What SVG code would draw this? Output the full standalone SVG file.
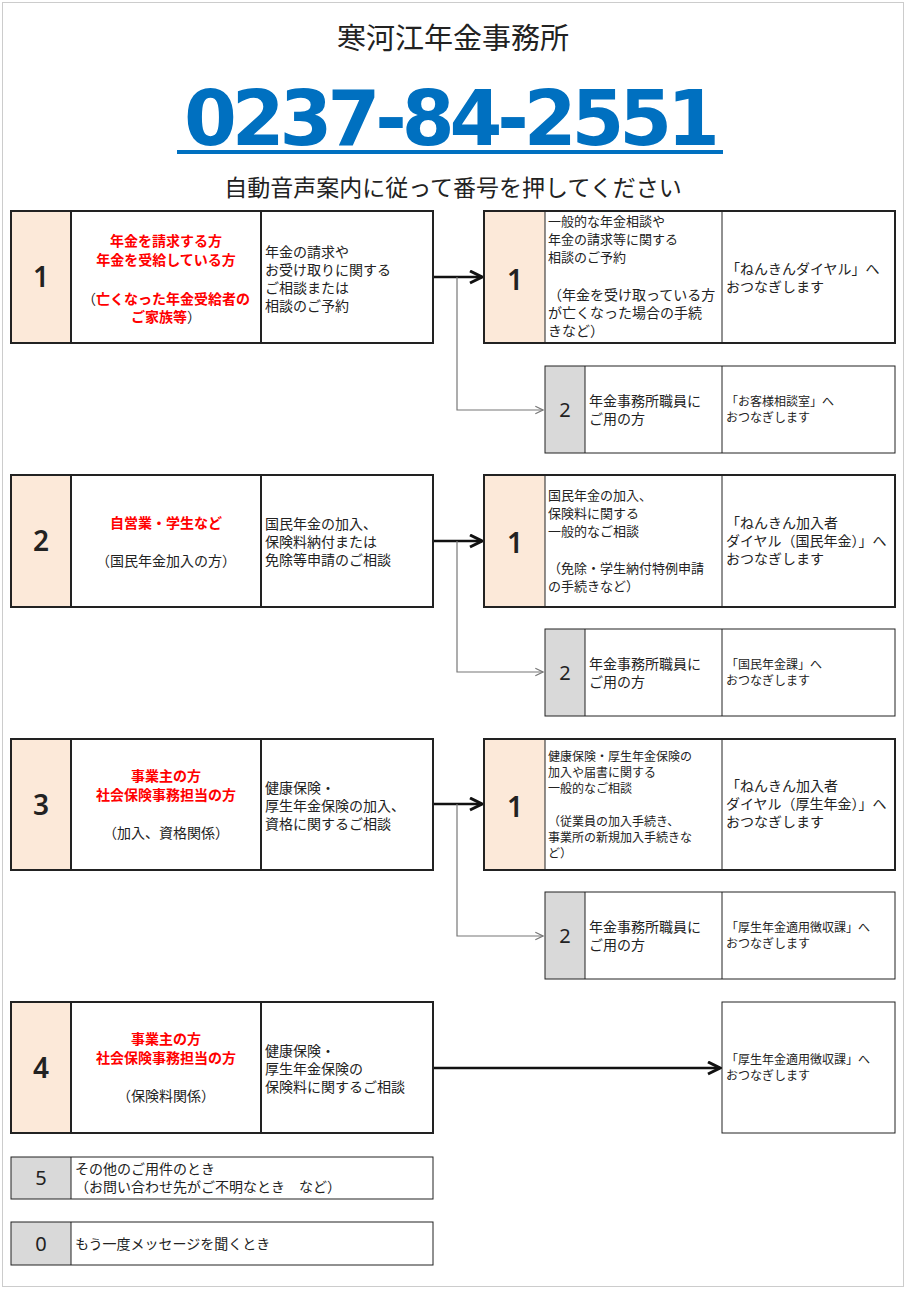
<svg xmlns="http://www.w3.org/2000/svg" width="907" height="1290" viewBox="0 0 907 1290">
<style>
text{font-family:"Noto Sans CJK JP","Noto Sans",sans-serif;fill:#222}
.b{fill:none;stroke:#222;stroke-width:2}
.t{fill:none;stroke:#222;stroke-width:1}
.pk{fill:#fce9d9}
.gy{fill:#d9d9d9}
.n{font-size:28px;text-anchor:middle;font-family:"Noto Sans",sans-serif;font-weight:600}
.s{font-size:20px;text-anchor:middle;font-family:"Noto Sans",sans-serif}
.r{fill:#ff0000;font-size:14px;text-anchor:middle;font-weight:bold}
.c{font-size:14px;text-anchor:middle}
.d{font-size:14px}
.m{font-size:13px}
.sm{font-size:12px}
</style>
<defs>
<marker id="ab" viewBox="0 0 10 10" refX="9" refY="5" markerWidth="6" markerHeight="6" orient="auto"><path d="M1,1 L9,5 L1,9" fill="none" stroke="#111" stroke-width="2"/></marker>
<marker id="ag" viewBox="0 0 10 10" refX="9" refY="5" markerWidth="8" markerHeight="8" orient="auto"><path d="M1,1 L9,5 L1,9" fill="none" stroke="#777" stroke-width="1.2"/></marker>
</defs>
<rect width="907" height="1290" fill="#fff"/>
<rect x="2.5" y="2.5" width="901" height="1284" fill="none" stroke="#ccc"/>
<g id="header">
<text x="453" y="49" font-size="29" text-anchor="middle">寒河江年金事務所</text>
<text x="452" y="145" font-size="76" font-weight="600" text-anchor="middle" textLength="536" lengthAdjust="spacing" style="fill:#0070c0;font-family:'DejaVu Sans',sans-serif">0237-84-2551</text>
<rect x="177" y="150" width="546" height="4" fill="#0070c0"/>
<text x="453" y="196" font-size="23" text-anchor="middle">自動音声案内に従って番号を押してください</text>
</g>
<g id="connectors">
<line x1="433" y1="277" x2="482" y2="277" stroke="#111" stroke-width="2.5" marker-end="url(#ab)"/>
<polyline points="457,277 457,410 543,410" fill="none" stroke="#777" stroke-width="1.2" marker-end="url(#ag)"/>
<line x1="433" y1="541" x2="482" y2="541" stroke="#111" stroke-width="2.5" marker-end="url(#ab)"/>
<polyline points="457,541 457,672 543,672" fill="none" stroke="#777" stroke-width="1.2" marker-end="url(#ag)"/>
<line x1="433" y1="804" x2="482" y2="804" stroke="#111" stroke-width="2.5" marker-end="url(#ab)"/>
<polyline points="457,804 457,936 543,936" fill="none" stroke="#777" stroke-width="1.2" marker-end="url(#ag)"/>
<line x1="433" y1="1068" x2="720" y2="1068" stroke="#111" stroke-width="2.5" marker-end="url(#ab)"/>
</g>
<g id="opt1">
<rect x="11" y="211" width="60" height="132" class="pk"/>
<rect x="11" y="211" width="422" height="132" class="b"/>
<line x1="71" y1="211" x2="71" y2="343" class="b"/><line x1="261" y1="211" x2="261" y2="343" class="b"/>
<text x="41" y="287" class="n">1</text>
<text x="166" y="246" class="r">年金を請求する方</text>
<text x="166" y="265" class="r">年金を受給している方</text>
<text x="166" y="304" class="r"><tspan style="fill:#222;font-weight:normal">（</tspan>亡くなった年金受給者の</text>
<text x="166" y="322" class="r">ご家族等<tspan style="fill:#222;font-weight:normal">）</tspan></text>
<text x="265" y="257" class="d">年金の請求や</text>
<text x="265" y="275" class="d">お受け取りに関する</text>
<text x="265" y="293" class="d">ご相談または</text>
<text x="265" y="311" class="d">相談のご予約</text>
</g>
<g id="opt1-1">
<rect x="484" y="211" width="61" height="132" class="pk"/>
<rect x="484" y="211" width="411" height="132" class="b"/>
<line x1="545" y1="211" x2="545" y2="343" class="t"/><line x1="722" y1="211" x2="722" y2="343" class="t"/>
<text x="515" y="290" class="n">1</text>
<text x="548" y="226" class="m">一般的な年金相談や</text>
<text x="548" y="244" class="m">年金の請求等に関する</text>
<text x="548" y="262" class="m">相談のご予約</text>
<text x="548" y="300" class="d">（年金を受け取っている方</text>
<text x="548" y="318" class="d">が亡くなった場合の手続</text>
<text x="548" y="336" class="d">きなど）</text>
<text x="726" y="274" class="d">「ねんきんダイヤル」へ</text>
<text x="726" y="292" class="d">おつなぎします</text>
</g>
<g id="opt1-2">
<rect x="545" y="366" width="40" height="87" class="gy"/>
<rect x="545" y="366" width="350" height="87" class="t"/>
<line x1="585" y1="366" x2="585" y2="453" class="t"/><line x1="722" y1="366" x2="722" y2="453" class="t"/>
<text x="565" y="417" class="s">2</text>
<text x="589" y="406" class="d">年金事務所職員に</text>
<text x="589" y="424" class="d">ご用の方</text>
<text x="726" y="406" class="sm">「お客様相談室」へ</text>
<text x="726" y="422" class="sm">おつなぎします</text>
</g>
<g id="opt2">
<rect x="11" y="475" width="60" height="132" class="pk"/>
<rect x="11" y="475" width="422" height="132" class="b"/>
<line x1="71" y1="475" x2="71" y2="607" class="b"/><line x1="261" y1="475" x2="261" y2="607" class="b"/>
<text x="41" y="551" class="n">2</text>
<text x="166" y="528" class="r">自営業・学生など</text>
<text x="166" y="566" class="c">（国民年金加入の方）</text>
<text x="265" y="529" class="d">国民年金の加入、</text>
<text x="265" y="547" class="d">保険料納付または</text>
<text x="265" y="565" class="d">免除等申請のご相談</text>
</g>
<g id="opt2-1">
<rect x="484" y="475" width="61" height="132" class="pk"/>
<rect x="484" y="475" width="411" height="132" class="b"/>
<line x1="545" y1="475" x2="545" y2="607" class="t"/><line x1="722" y1="475" x2="722" y2="607" class="t"/>
<text x="515" y="553" class="n">1</text>
<text x="548" y="500" class="m">国民年金の加入、</text>
<text x="548" y="518" class="m">保険料に関する</text>
<text x="548" y="536" class="m">一般的なご相談</text>
<text x="548" y="573" class="m">（免除・学生納付特例申請</text>
<text x="548" y="591" class="m">の手続きなど）</text>
<text x="726" y="528" class="d">「ねんきん加入者</text>
<text x="726" y="546" class="d">ダイヤル（国民年金）」へ</text>
<text x="726" y="564" class="d">おつなぎします</text>
</g>
<g id="opt2-2">
<rect x="545" y="629" width="40" height="87" class="gy"/>
<rect x="545" y="629" width="350" height="87" class="t"/>
<line x1="585" y1="629" x2="585" y2="716" class="t"/><line x1="722" y1="629" x2="722" y2="716" class="t"/>
<text x="565" y="680" class="s">2</text>
<text x="589" y="669" class="d">年金事務所職員に</text>
<text x="589" y="687" class="d">ご用の方</text>
<text x="726" y="669" class="sm">「国民年金課」へ</text>
<text x="726" y="685" class="sm">おつなぎします</text>
</g>
<g id="opt3">
<rect x="11" y="739" width="60" height="131" class="pk"/>
<rect x="11" y="739" width="422" height="131" class="b"/>
<line x1="71" y1="739" x2="71" y2="870" class="b"/><line x1="261" y1="739" x2="261" y2="870" class="b"/>
<text x="41" y="815" class="n">3</text>
<text x="166" y="781" class="r">事業主の方</text>
<text x="166" y="800" class="r">社会保険事務担当の方</text>
<text x="166" y="838" class="c">（加入、資格関係）</text>
<text x="265" y="793" class="d">健康保険・</text>
<text x="265" y="811" class="d">厚生年金保険の加入、</text>
<text x="265" y="829" class="d">資格に関するご相談</text>
</g>
<g id="opt3-1">
<rect x="484" y="739" width="61" height="131" class="pk"/>
<rect x="484" y="739" width="411" height="131" class="b"/>
<line x1="545" y1="739" x2="545" y2="870" class="t"/><line x1="722" y1="739" x2="722" y2="870" class="t"/>
<text x="515" y="817" class="n">1</text>
<text x="548" y="761" class="sm">健康保険・厚生年金保険の</text>
<text x="548" y="777" class="sm">加入や届書に関する</text>
<text x="548" y="793" class="sm">一般的なご相談</text>
<text x="548" y="826" class="sm">（従業員の加入手続き、</text>
<text x="548" y="842" class="sm">事業所の新規加入手続きな</text>
<text x="548" y="858" class="sm">ど）</text>
<text x="726" y="791" class="d">「ねんきん加入者</text>
<text x="726" y="809" class="d">ダイヤル（厚生年金）」へ</text>
<text x="726" y="827" class="d">おつなぎします</text>
</g>
<g id="opt3-2">
<rect x="545" y="892" width="40" height="87" class="gy"/>
<rect x="545" y="892" width="350" height="87" class="t"/>
<line x1="585" y1="892" x2="585" y2="979" class="t"/><line x1="722" y1="892" x2="722" y2="979" class="t"/>
<text x="565" y="943" class="s">2</text>
<text x="589" y="932" class="d">年金事務所職員に</text>
<text x="589" y="950" class="d">ご用の方</text>
<text x="726" y="932" class="sm">「厚生年金適用徴収課」へ</text>
<text x="726" y="948" class="sm">おつなぎします</text>
</g>
<g id="opt4">
<rect x="11" y="1002" width="60" height="131" class="pk"/>
<rect x="11" y="1002" width="422" height="131" class="b"/>
<line x1="71" y1="1002" x2="71" y2="1133" class="b"/><line x1="261" y1="1002" x2="261" y2="1133" class="b"/>
<text x="41" y="1078" class="n">4</text>
<text x="166" y="1044" class="r">事業主の方</text>
<text x="166" y="1063" class="r">社会保険事務担当の方</text>
<text x="166" y="1101" class="c">（保険料関係）</text>
<text x="265" y="1056" class="d">健康保険・</text>
<text x="265" y="1074" class="d">厚生年金保険の</text>
<text x="265" y="1092" class="d">保険料に関するご相談</text>
</g>
<g id="opt4-dest">
<rect x="722" y="1002" width="173" height="131" class="t"/>
<text x="726" y="1064" class="sm">「厚生年金適用徴収課」へ</text>
<text x="726" y="1080" class="sm">おつなぎします</text>
</g>
<g id="opt5">
<rect x="11" y="1157" width="60" height="42" class="gy"/>
<rect x="11" y="1157" width="422" height="42" class="t"/>
<line x1="71" y1="1157" x2="71" y2="1199" class="t"/>
<text x="41" y="1185" class="s" font-size="18">5</text>
<text x="75" y="1174" class="d">その他のご用件のとき</text>
<text x="75" y="1192" class="d">（お問い合わせ先がご不明なとき　など）</text>
</g>
<g id="opt0">
<rect x="11" y="1222" width="60" height="43" class="gy"/>
<rect x="11" y="1222" width="422" height="43" class="t"/>
<line x1="71" y1="1222" x2="71" y2="1265" class="t"/>
<text x="41" y="1251" class="s">0</text>
<text x="75" y="1249" class="d">もう一度メッセージを聞くとき</text>
</g>
</svg>
